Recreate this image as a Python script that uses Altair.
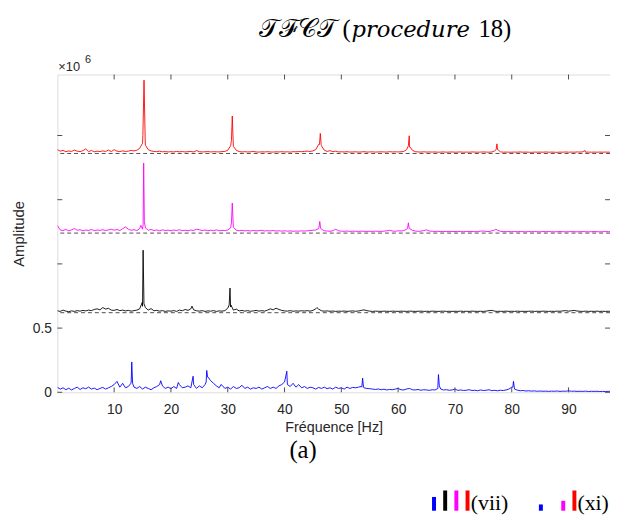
import altair as alt
import pandas as pd

# ---------------- data (amplitudes in units of 10^6) ----------------
FREQ_STEP = 0.5
N_GRID = 196
GRID = [i * FREQ_STEP for i in range(N_GRID)]

SERIES = ["bleu", "noir", "magenta", "rouge"]
COLORS = ["#0000ff", "#000000", "#ff00ff", "#ff0000"]
OFFSETS = [0.0, 0.62, 1.24, 1.86]

RED_NOISE = [
    0.030, 0.018, 0.024, 0.014, 0.020, 0.016, 0.026, 0.018, 0.014, 0.022, 0.036, 0.014, 0.024, 0.013, 0.018, 0.015, 0.020, 0.016, 0.026, 0.015,
    0.030, 0.018, 0.015, 0.020, 0.016, 0.018, 0.024, 0.020, 0.025, 0.040, 0.080, 0.065, 0.030, 0.020, 0.016, 0.014, 0.018, 0.013, 0.015, 0.012,
    0.014, 0.012, 0.016, 0.013, 0.015, 0.012, 0.014, 0.016, 0.012, 0.022, 0.014, 0.012, 0.013, 0.015, 0.012, 0.014, 0.013, 0.012, 0.015, 0.016,
    0.025, 0.060, 0.055, 0.025, 0.015, 0.012, 0.014, 0.012, 0.013, 0.016, 0.012, 0.011, 0.013, 0.012, 0.014, 0.012, 0.011, 0.013, 0.012, 0.014,
    0.012, 0.013, 0.011, 0.014, 0.013, 0.015, 0.014, 0.016, 0.018, 0.016, 0.020, 0.030, 0.070, 0.060, 0.025, 0.016, 0.022, 0.014, 0.018, 0.012,
    0.013, 0.012, 0.014, 0.011, 0.012, 0.013, 0.011, 0.012, 0.014, 0.011, 0.012, 0.013, 0.011, 0.012, 0.013, 0.012, 0.011, 0.014, 0.012, 0.013,
    0.012, 0.013, 0.016, 0.030, 0.050, 0.025, 0.014, 0.012, 0.011, 0.013, 0.011, 0.012, 0.011, 0.012, 0.010, 0.011, 0.012, 0.010, 0.011, 0.012,
    0.010, 0.011, 0.012, 0.010, 0.011, 0.010, 0.012, 0.011, 0.010, 0.011, 0.012, 0.011, 0.010, 0.012, 0.020, 0.030, 0.013, 0.010, 0.011, 0.010,
    0.010, 0.011, 0.010, 0.012, 0.010, 0.011, 0.010, 0.009, 0.011, 0.010, 0.011, 0.010, 0.012, 0.010, 0.011, 0.010, 0.009, 0.011, 0.010, 0.012,
    0.010, 0.011, 0.010, 0.012, 0.011, 0.013, 0.010, 0.011, 0.010, 0.011, 0.010, 0.011, 0.010, 0.011, 0.010, 0.011,
]
RED_PEAK_F = [15.06, 15.26, 15.46, 30.65, 30.8, 30.95, 46.15, 46.3, 46.45, 61.8, 61.96, 62.1, 77.25, 77.4, 77.55, 92.9]
RED_PEAK_A = [0.14, 0.571, 0.12, 0.10, 0.292, 0.10, 0.07, 0.156, 0.07, 0.06, 0.138, 0.05, 0.03, 0.075, 0.03, 0.023]

MAGENTA_NOISE = [
    0.060, 0.025, 0.020, 0.028, 0.018, 0.025, 0.036, 0.022, 0.026, 0.018, 0.024, 0.020, 0.028, 0.019, 0.024, 0.021, 0.026, 0.020, 0.025, 0.030,
    0.022, 0.028, 0.020, 0.034, 0.048, 0.030, 0.022, 0.026, 0.020, 0.035, 0.030, 0.040, 0.022, 0.028, 0.020, 0.024, 0.018, 0.025, 0.020, 0.023,
    0.018, 0.024, 0.020, 0.026, 0.019, 0.022, 0.018, 0.024, 0.020, 0.030, 0.026, 0.020, 0.024, 0.018, 0.022, 0.019, 0.025, 0.018, 0.021, 0.020,
    0.024, 0.040, 0.045, 0.022, 0.018, 0.022, 0.017, 0.020, 0.016, 0.021, 0.017, 0.019, 0.022, 0.016, 0.019, 0.017, 0.020, 0.016, 0.018, 0.015,
    0.018, 0.015, 0.017, 0.014, 0.016, 0.015, 0.017, 0.016, 0.018, 0.020, 0.022, 0.024, 0.035, 0.030, 0.018, 0.016, 0.014, 0.018, 0.030, 0.018,
    0.015, 0.014, 0.016, 0.013, 0.015, 0.014, 0.013, 0.015, 0.014, 0.013, 0.014, 0.013, 0.015, 0.014, 0.013, 0.015, 0.018, 0.022, 0.016, 0.014,
    0.018, 0.016, 0.020, 0.030, 0.035, 0.022, 0.016, 0.014, 0.015, 0.020, 0.025, 0.016, 0.014, 0.013, 0.014, 0.012, 0.013, 0.012, 0.013, 0.012,
    0.012, 0.013, 0.012, 0.011, 0.012, 0.013, 0.012, 0.011, 0.012, 0.015, 0.016, 0.013, 0.012, 0.018, 0.024, 0.022, 0.014, 0.012, 0.011, 0.012,
    0.011, 0.012, 0.011, 0.012, 0.011, 0.010, 0.012, 0.011, 0.012, 0.011, 0.010, 0.012, 0.011, 0.012, 0.011, 0.010, 0.011, 0.012, 0.011, 0.010,
    0.011, 0.012, 0.011, 0.010, 0.011, 0.012, 0.011, 0.010, 0.011, 0.012, 0.011, 0.010, 0.011, 0.012, 0.011, 0.012,
]
MAGENTA_PEAK_F = [14.7, 15.1, 15.2, 15.32, 30.65, 30.8, 30.95, 46.05, 46.2, 46.35, 61.65, 61.8, 61.95, 77.2]
MAGENTA_PEAK_A = [0.06, 0.07, 0.546, 0.09, 0.08, 0.234, 0.08, 0.04, 0.09, 0.04, 0.035, 0.08, 0.035, 0.03]

BLACK_NOISE = [
    0.015, 0.010, 0.020, 0.012, 0.008, 0.014, 0.010, 0.016, 0.012, 0.018, 0.014, 0.020, 0.016, 0.025, 0.030, 0.022, 0.040, 0.028, 0.034, 0.020,
    0.018, 0.025, 0.016, 0.020, 0.014, 0.018, 0.012, 0.016, 0.020, 0.030, 0.050, 0.040, 0.020, 0.032, 0.015, 0.018, 0.012, 0.016, 0.010, 0.014,
    0.012, 0.016, 0.010, 0.020, 0.015, 0.025, 0.018, 0.030, 0.022, 0.015, 0.012, 0.016, 0.010, 0.014, 0.012, 0.016, 0.010, 0.014, 0.012, 0.016,
    0.035, 0.045, 0.020, 0.028, 0.014, 0.018, 0.012, 0.016, 0.011, 0.014, 0.018, 0.012, 0.016, 0.012, 0.020, 0.030, 0.022, 0.035, 0.025, 0.018,
    0.014, 0.012, 0.016, 0.011, 0.014, 0.012, 0.015, 0.013, 0.016, 0.012, 0.018, 0.030, 0.028, 0.015, 0.012, 0.014, 0.011, 0.013, 0.010, 0.012,
    0.011, 0.013, 0.010, 0.012, 0.014, 0.011, 0.013, 0.018, 0.022, 0.016, 0.012, 0.010, 0.012, 0.011, 0.010, 0.012, 0.011, 0.010, 0.012, 0.011,
    0.010, 0.012, 0.011, 0.010, 0.012, 0.011, 0.010, 0.011, 0.012, 0.010, 0.011, 0.010, 0.012, 0.011, 0.010, 0.011, 0.012, 0.010, 0.011, 0.010,
    0.011, 0.010, 0.012, 0.010, 0.011, 0.010, 0.012, 0.011, 0.010, 0.011, 0.010, 0.012, 0.016, 0.018, 0.012, 0.010, 0.011, 0.010, 0.012, 0.010,
    0.011, 0.010, 0.012, 0.010, 0.011, 0.010, 0.011, 0.012, 0.010, 0.011, 0.010, 0.012, 0.011, 0.010, 0.011, 0.010, 0.012, 0.011, 0.014, 0.016,
    0.012, 0.015, 0.018, 0.013, 0.011, 0.010, 0.012, 0.010, 0.011, 0.010, 0.012, 0.010, 0.011, 0.010, 0.011, 0.010,
]
BLACK_PEAK_F = [14.95, 15.1, 15.25, 23.7, 30.25, 30.4, 30.55, 45.7]
BLACK_PEAK_A = [0.08, 0.487, 0.07, 0.051, 0.06, 0.192, 0.06, 0.04]

BLUE_NOISE = [
    0.040, 0.025, 0.035, 0.020, 0.032, 0.018, 0.030, 0.040, 0.022, 0.035, 0.028, 0.040, 0.025, 0.033, 0.020, 0.030, 0.038, 0.025, 0.035, 0.045,
    0.060, 0.085, 0.040, 0.070, 0.035, 0.045, 0.080, 0.040, 0.030, 0.045, 0.025, 0.040, 0.030, 0.020, 0.035, 0.045, 0.060, 0.050, 0.030, 0.040,
    0.028, 0.045, 0.030, 0.060, 0.035, 0.040, 0.050, 0.035, 0.060, 0.030, 0.050, 0.035, 0.060, 0.120, 0.090, 0.070, 0.050, 0.035, 0.055, 0.030,
    0.040, 0.025, 0.045, 0.030, 0.035, 0.055, 0.030, 0.040, 0.025, 0.035, 0.030, 0.040, 0.025, 0.035, 0.045, 0.030, 0.040, 0.030, 0.050, 0.060,
    0.080, 0.060, 0.045, 0.070, 0.040, 0.060, 0.035, 0.045, 0.030, 0.040, 0.035, 0.025, 0.038, 0.030, 0.040, 0.028, 0.035, 0.025, 0.040, 0.030,
    0.035, 0.025, 0.040, 0.030, 0.038, 0.035, 0.040, 0.045, 0.035, 0.030, 0.028, 0.025, 0.022, 0.026, 0.020, 0.024, 0.018, 0.022, 0.020, 0.025,
    0.030, 0.020, 0.018, 0.026, 0.030, 0.020, 0.018, 0.022, 0.016, 0.020, 0.018, 0.015, 0.020, 0.018, 0.030, 0.025, 0.018, 0.020, 0.016, 0.018,
    0.025, 0.015, 0.018, 0.014, 0.016, 0.020, 0.014, 0.016, 0.012, 0.018, 0.014, 0.016, 0.020, 0.013, 0.015, 0.012, 0.016, 0.014, 0.018, 0.025,
    0.040, 0.025, 0.016, 0.012, 0.014, 0.010, 0.012, 0.009, 0.011, 0.008, 0.010, 0.008, 0.009, 0.007, 0.009, 0.008, 0.010, 0.007, 0.009, 0.008,
    0.012, 0.008, 0.009, 0.007, 0.008, 0.007, 0.009, 0.006, 0.008, 0.007, 0.008, 0.006, 0.007, 0.006, 0.007, 0.008,
]
BLUE_PEAK_F = [12.95, 13.1, 13.25, 18.2, 21.3, 23.9, 26.2, 26.3, 26.45, 28.8, 40.4,
               53.6, 53.75, 53.9, 67.0, 67.1, 67.25, 80.2, 80.3, 80.45]
BLUE_PEAK_A = [0.07, 0.236, 0.07, 0.09, 0.077, 0.125, 0.08, 0.17, 0.12, 0.06, 0.164,
               0.04, 0.11, 0.04, 0.05, 0.138, 0.05, 0.04, 0.085, 0.04]

X_TICKS = [10, 20, 30, 40, 50, 60, 70, 80, 90]
Y_TICKS = [0, 0.5, 1.0, 1.5, 2.0]

LEGEND_VII = [0.68, 1.0, 1.0, 1.0]
LEGEND_XI = [0.31, 0.0, 0.49, 1.0]

# ---------------- tables ----------------
noise = [BLUE_NOISE, BLACK_NOISE, MAGENTA_NOISE, RED_NOISE]
peaks_f = [BLUE_PEAK_F, BLACK_PEAK_F, MAGENTA_PEAK_F, RED_PEAK_F]
peaks_a = [BLUE_PEAK_A, BLACK_PEAK_A, MAGENTA_PEAK_A, RED_PEAK_A]
rows = []
for name, off, nz, pf, pa in zip(SERIES, OFFSETS, noise, peaks_f, peaks_a):
    pts = sorted(list(zip(GRID, nz)) + list(zip(pf, pa)))
    for k, (f, a) in enumerate(pts):
        rows.append({"series": name, "freq": f, "amp": a, "offset": off, "k": k})
spec = pd.DataFrame(rows)
spec["level"] = spec["offset"] + spec["amp"]

base_df = pd.DataFrame({"level": OFFSETS[1:]})
xt_df = pd.DataFrame({"freq": X_TICKS})
yt_df = pd.DataFrame({"level": Y_TICKS})
leg_df = pd.DataFrame({
    "group": ["vii"] * 4 + ["xi"] * 4,
    "series": SERIES + SERIES,
    "h": LEGEND_VII + LEGEND_XI,
})

W, H = 560, 322
AXC = "#262626"
SANS = "Liberation Sans"
SERIF = "Liberation Serif"
MATH_IT = "DejaVu Serif"

xscale = alt.Scale(domain=[0, 97.3], nice=False, zero=False)
yscale = alt.Scale(domain=[0, 2.475], nice=False, zero=False)
cscale = alt.Scale(domain=SERIES, range=COLORS)

xaxis = alt.Axis(values=X_TICKS, title="Fréquence [Hz]", tickSize=0, domain=False, grid=False,
                 labelFont=SANS, labelFontSize=14, labelColor=AXC, labelPadding=10,
                 titleFont=SANS, titleFontSize=14.5, titleFontWeight="normal", titleColor=AXC,
                 titlePadding=5)
yaxis = alt.Axis(values=Y_TICKS, title="Amplitude", tickSize=0, domain=False, grid=False,
                 labelExpr="datum.value == 0 ? '0' : (datum.value == 0.5 ? '0.5' : '')",
                 labelFont=SANS, labelFontSize=14, labelColor=AXC, labelPadding=6,
                 titleFont=SANS, titleFontSize=15, titleFontWeight="normal", titleColor=AXC,
                 titlePadding=6)

X = alt.X("freq:Q", scale=xscale, axis=xaxis)
Y = alt.Y("level:Q", scale=yscale, axis=yaxis)

baselines = alt.Chart(base_df).mark_rule(strokeDash=[4, 3], color="#222222", strokeWidth=0.8).encode(y=Y)

lines = alt.Chart(spec).mark_line(strokeWidth=0.9, clip=True).encode(
    x=X, y=Y,
    color=alt.Color("series:N", scale=cscale, legend=None),
    order="k:Q",
    detail="series:N",
)

tick_style = dict(color="#4d4d4d", strokeWidth=1)
xt_bottom = alt.Chart(xt_df).mark_rule(**tick_style).encode(x=X, y=alt.value(H), y2=alt.value(H - 5))
xt_top = alt.Chart(xt_df).mark_rule(**tick_style).encode(x=X, y=alt.value(0), y2=alt.value(5))
yt_left = alt.Chart(yt_df).mark_rule(**tick_style).encode(y=Y, x=alt.value(0), x2=alt.value(5))
yt_right = alt.Chart(yt_df).mark_rule(**tick_style).encode(y=Y, x=alt.value(W), x2=alt.value(W - 5))

one = pd.DataFrame({"t": [""]})


def label(text, x, y, font, size, align="left", style="normal", color="#000000"):
    return alt.Chart(one).mark_text(text=text, font=font, fontSize=size, fontStyle=style,
                                    color=color, align=align, baseline="alphabetic").encode(
        x=alt.value(x), y=alt.value(y))


exp_base = label("×10", 1, -4, SANS, 13, color=AXC)
exp_sup = label("6", 28, -12, SANS, 11, color=AXC)
panel = label("(a)", 249, 389, SERIF, 25, align="center")

# title pieces:  TFCT (procedure 18)
t_cal = label("𝒯ℱ𝒞𝒯", 204, -38, SERIF, 26)
t_open = label("(", 289, -38, SERIF, 25)
t_proc = label("procedure", 298, -38, MATH_IT, 23, style="italic")
t_close = label("18)", 460, -38, SERIF, 25, align="right")

main = alt.layer(baselines, lines, xt_bottom, xt_top, yt_left, yt_right,
                 exp_base, exp_sup, panel, t_cal, t_open, t_proc, t_close)

legY = alt.Y("h:Q", scale=alt.Scale(domain=[0, 1], range=[442, 421.5], nice=False), axis=None)
legC = alt.Color("series:N", scale=cscale, legend=None)


def legend_layer(group, r0, r1, text, lx):
    bars = alt.Chart(leg_df).transform_filter(alt.datum.group == group).mark_bar(size=4).encode(
        x=alt.X("series:N", sort=SERIES,
                scale=alt.Scale(domain=SERIES, range=[r0, r1], paddingInner=0, paddingOuter=0),
                axis=None),
        y=legY, color=legC)
    txt = label(text, lx, 441, SERIF, 22)
    return alt.layer(bars, txt)


leg_vii = legend_layer("vii", 376.0, 421.3, "(vii)", 419)
leg_xi = legend_layer("xi", 484.3, 529.6, "(xi)", 527)

chart = alt.layer(main, leg_vii, leg_xi).resolve_scale(
    x="independent", y="independent"
).properties(
    width=W, height=H,
    padding={"left": 50, "top": 64, "right": 0, "bottom": 126},
    autosize=alt.AutoSizeParams(type="none"),
).configure_view(stroke="#555555", strokeWidth=1).configure(background="white")

chart.save("out.html", embed_options={"renderer": "svg", "actions": False})
